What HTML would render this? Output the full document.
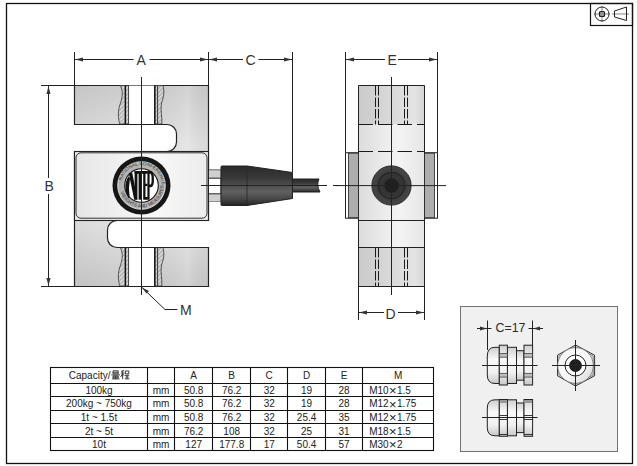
<!DOCTYPE html>
<html><head><meta charset="utf-8">
<style>
html,body{margin:0;padding:0;background:#fff;width:637px;height:466px;overflow:hidden}
svg{display:block}
text{font-family:"Liberation Sans",sans-serif;fill:#222}
</style></head><body>
<svg width="637" height="466" viewBox="0 0 637 466">
<defs>
<linearGradient id="gBlock" x1="0" x2="1" y1="0" y2="0">
<stop offset="0" stop-color="#c4c4c4"/><stop offset="0.75" stop-color="#dedede"/><stop offset="1" stop-color="#c6c6c6"/>
</linearGradient>
<linearGradient id="gPanel" x1="0" x2="1" y1="0" y2="0">
<stop offset="0" stop-color="#e6e6e6"/><stop offset="0.6" stop-color="#f8f8f8"/><stop offset="1" stop-color="#ececec"/>
</linearGradient>
<linearGradient id="gBoot" x1="0" x2="0" y1="0" y2="1">
<stop offset="0" stop-color="#2a2a2a"/><stop offset="0.3" stop-color="#383838"/><stop offset="0.65" stop-color="#606060"/><stop offset="0.85" stop-color="#444"/><stop offset="1" stop-color="#222"/>
</linearGradient>
<linearGradient id="gGland" x1="0" x2="0" y1="0" y2="1">
<stop offset="0" stop-color="#cfcfcf"/><stop offset="0.35" stop-color="#fafafa"/><stop offset="0.7" stop-color="#f0f0f0"/><stop offset="1" stop-color="#c8c8c8"/>
</linearGradient>
<linearGradient id="gSideBlock" x1="0" x2="1" y1="0" y2="0">
<stop offset="0" stop-color="#cacaca"/><stop offset="0.6" stop-color="#dcdcdc"/><stop offset="0.85" stop-color="#e4e4e4"/><stop offset="1" stop-color="#d4d4d4"/>
</linearGradient>
<linearGradient id="gSideMid" x1="0" x2="1" y1="0" y2="0">
<stop offset="0" stop-color="#dcdcdc"/><stop offset="0.6" stop-color="#f4f4f4"/><stop offset="1" stop-color="#e6e6e6"/>
</linearGradient>
<radialGradient id="gGrom" cx="0.5" cy="0.5" r="0.5">
<stop offset="0.6" stop-color="#3a3a3a"/><stop offset="1" stop-color="#474747"/>
</radialGradient>
<linearGradient id="gBeamV" gradientUnits="userSpaceOnUse" x1="0" y1="85" x2="0" y2="286">
<stop offset="0" stop-color="#cecece"/><stop offset="0.3" stop-color="#e4e4e4"/><stop offset="0.7" stop-color="#e4e4e4"/><stop offset="1" stop-color="#cccccc"/>
</linearGradient>
<linearGradient id="gBeamH" gradientUnits="userSpaceOnUse" x1="74" y1="0" x2="208" y2="0">
<stop offset="0" stop-color="#000" stop-opacity="0.045"/><stop offset="0.5" stop-color="#000" stop-opacity="0"/><stop offset="0.85" stop-color="#fff" stop-opacity="0.1"/><stop offset="1" stop-color="#000" stop-opacity="0.04"/>
</linearGradient>
<linearGradient id="gHex" x1="0" y1="0" x2="1" y2="1">
<stop offset="0" stop-color="#fafafa"/><stop offset="1" stop-color="#cfcfcf"/>
</linearGradient>
<linearGradient id="gHex2" x1="0" y1="0" x2="1" y2="1">
<stop offset="0" stop-color="#f2f2f2"/><stop offset="0.5" stop-color="#fcfcfc"/><stop offset="1" stop-color="#d6d6d6"/>
</linearGradient>
<pattern id="hatch" patternUnits="userSpaceOnUse" width="3" height="3" patternTransform="rotate(45)">
<rect width="3" height="3" fill="#d6d6d6"/><line x1="0" y1="0" x2="0" y2="3" stroke="#666" stroke-width="0.8"/>
</pattern>
</defs>

<!-- page border -->
<rect x="6.5" y="3.5" width="626" height="460" fill="none" stroke="#111" stroke-width="1.3"/>

<!-- projection symbol box -->
<rect x="590.5" y="3.5" width="42" height="22" fill="none" stroke="#111" stroke-width="1.2"/>
<g stroke="#999" stroke-width="1.2"><line x1="594" y1="14" x2="610" y2="14"/><line x1="602" y1="6" x2="602" y2="22"/><line x1="612" y1="14" x2="629" y2="14"/></g>
<circle cx="602" cy="14" r="7" fill="none" stroke="#222" stroke-width="1"/>
<rect x="599.5" y="11.5" width="5" height="5" rx="1" fill="#999" stroke="#222" stroke-width="1.2"/>
<path d="M614.5,11 L626.5,7 V20.5 L614.5,17 Z" fill="none" stroke="#222" stroke-width="1"/>

<!-- ============ FRONT VIEW ============ -->
<g id="front">
<path d="M74.5,85.5 H208.5 V220.5 H117 A9.5,9.5 0 0 0 107.5,230 V238 A9.5,9.5 0 0 0 117,247.5 H208.5 V286.5 H74.5 V151.5 H167 A9.5,9.5 0 0 0 176.5,142 V134 A9.5,9.5 0 0 0 167,124.5 H74.5 Z" fill="url(#gBeamV)"/>
<path d="M74.5,85.5 H208.5 V220.5 H117 A9.5,9.5 0 0 0 107.5,230 V238 A9.5,9.5 0 0 0 117,247.5 H208.5 V286.5 H74.5 V151.5 H167 A9.5,9.5 0 0 0 176.5,142 V134 A9.5,9.5 0 0 0 167,124.5 H74.5 Z" fill="url(#gBeamH)" stroke="#222" stroke-width="1.2"/>
<!-- panel -->
<rect x="74.5" y="151.5" width="134" height="69" fill="#e8e8e8" stroke="#222" stroke-width="1.1"/>
<rect x="76" y="152.8" width="131" height="65.4" rx="5" fill="url(#gPanel)" stroke="#333" stroke-width="1"/>
<!-- bores top -->
<g id="bore">
<rect x="128.5" y="85.6" width="26.3" height="38.4" fill="#fff"/>
<path d="M120.4,85.6 C123.5,92 122.5,98 119.5,106 C117.5,113 118.5,120 119.8,124 H125.4 V85.6 Z" fill="url(#hatch)" stroke="#333" stroke-width="0.8"/>
<rect x="125.4" y="85.6" width="3.2" height="38.4" fill="url(#hatch)" stroke="#333" stroke-width="0.9"/>
<line x1="125.4" y1="85.6" x2="125.4" y2="124" stroke="#111" stroke-width="1.4"/>
<rect x="154.8" y="85.6" width="2.8" height="38.4" fill="url(#hatch)" stroke="#333" stroke-width="0.9"/>
<line x1="154.8" y1="85.6" x2="154.8" y2="124" stroke="#111" stroke-width="1.4"/>
<line x1="157.6" y1="85.6" x2="157.6" y2="124" stroke="#222" stroke-width="1"/>
<path d="M157.6,85.6 H163 C164.5,92 164,96 161.5,103 C160,110 162.5,117 161.8,124 H157.6 Z" fill="url(#hatch)" stroke="#333" stroke-width="0.8"/>
</g>
<use href="#bore" transform="translate(0,162)"/>
<line x1="74.5" y1="124.5" x2="167" y2="124.5" stroke="#222" stroke-width="1.1"/>
<line x1="117" y1="247.5" x2="208.5" y2="247.5" stroke="#222" stroke-width="1.1"/>

<!-- NTEP logo -->
<circle cx="141.5" cy="185.5" r="29" fill="#161616"/>
<circle cx="141.5" cy="185.5" r="23.8" fill="#b4b4b4" stroke="#e8e8e8" stroke-width="0.9"/>
<path id="ringTop" d="M121,185.5 A20.5,20.5 0 0 1 162,185.5" fill="none"/>
<path id="ringBot" d="M119.5,185.5 A22,22 0 0 0 163.5,185.5" fill="none"/>
<text font-size="4.8" style="fill:#333"><textPath href="#ringTop" startOffset="3%">· NATIONAL CONFERENCE ·</textPath></text>
<text font-size="4.8" style="fill:#333"><textPath href="#ringBot" startOffset="10%">WEIGHTS AND MEASURES</textPath></text>
<circle cx="141.5" cy="185.5" r="16.8" fill="#fff" stroke="#111" stroke-width="1.1"/>
<g fill="#111">
<path d="M128.6,176.2 Q124.6,182 125.6,189.5 Q126.2,194.5 128.4,198.3 L129.6,196.8 Q128.2,188 130,178.6 Z"/>
<path d="M128.8,173.6 L132.2,172.4 L137.4,199.2 L134.2,199.7 Z"/>
<rect x="134.6" y="171" width="2.8" height="28.7"/>
<rect x="134.6" y="171" width="10.6" height="2.8"/>
<rect x="138.6" y="171" width="2.7" height="28.7"/>
<path d="M143.2,171 H147.8 V173.8 H145.5 V183.8 H147.5 V186.1 H145.5 V197 H147.8 V199.7 H143.2 Z"/>
<path d="M147.4,171 H150.8 Q154,171.3 154,179.2 Q154,187.3 150.8,187.3 H149.6 V199.7 H147.4 Z M149.6,173.8 V184.6 H150.4 Q151.6,184.4 151.6,179.2 Q151.6,174 150.4,173.8 Z" fill-rule="evenodd"/>
</g>
<!-- connector -->
<rect x="208.5" y="170" width="12.5" height="31" fill="#fff" stroke="#222" stroke-width="1"/>
<rect x="209" y="170.5" width="11.5" height="7.5" fill="#cfcfcf"/>
<rect x="209" y="194" width="11.5" height="7" fill="#cfcfcf"/>
<g stroke="#222" stroke-width="1"><line x1="208.5" y1="178.2" x2="221" y2="178.2"/><line x1="208.5" y1="193.8" x2="221" y2="193.8"/></g>
<path d="M221,167 Q221,166 222,166 H247 L292.5,172.5 V198.5 L247,205.5 H222 Q221,205.5 221,204.5 Z" fill="url(#gBoot)" stroke="#222" stroke-width="1"/>
<line x1="247" y1="166" x2="247" y2="205.5" stroke="#2a2a2a" stroke-width="0.9"/>
<path d="M292.5,179 H319 Q316,185 320,192 H292.5 Z" fill="url(#gBoot)" stroke="#222" stroke-width="1"/>
</g>

<!-- dimension lines front -->
<g stroke="#222" stroke-width="1" fill="none">
<!-- A -->
<line x1="74.5" y1="52" x2="74.5" y2="85"/>
<line x1="208.5" y1="52" x2="208.5" y2="85"/>
<line x1="292.5" y1="52" x2="292.5" y2="172"/>
<line x1="75" y1="59.5" x2="133.5" y2="59.5"/>
<line x1="149.5" y1="59.5" x2="208" y2="59.5"/>
<line x1="209" y1="59.5" x2="243" y2="59.5"/>
<line x1="258.5" y1="59.5" x2="292" y2="59.5"/>
<!-- B -->
<line x1="41" y1="85.5" x2="74" y2="85.5"/>
<line x1="41" y1="286.5" x2="74" y2="286.5"/>
<line x1="48.5" y1="86" x2="48.5" y2="178"/>
<line x1="48.5" y1="194" x2="48.5" y2="286"/>
<!-- center lines -->
<line x1="141.5" y1="77" x2="141.5" y2="295"/>
<line x1="201" y1="185.5" x2="208" y2="185.5"/>
<line x1="208" y1="185.5" x2="327" y2="185.5"/>
<line x1="333" y1="185.5" x2="339" y2="185.5"/>
<!-- M leader -->
<path d="M142,287.5 L165,309.5 H177.5"/>
</g>
<g fill="#333">
<path d="M75,59.5 L83,57.5 V61.5 Z"/>
<path d="M208,59.5 L200,57.5 V61.5 Z"/>
<path d="M209,59.5 L217,57.5 V61.5 Z"/>
<path d="M292,59.5 L284,57.5 V61.5 Z"/>
<path d="M48.5,86 L46.5,94 H50.5 Z"/>
<path d="M48.5,286 L46.5,278 H50.5 Z"/>
<path d="M142,287.5 L149,291 L146.5,293.5 Z"/>
</g>
<text x="136.5" y="65" font-size="14" style="fill:#333">A</text>
<text x="245.5" y="65" font-size="14" style="fill:#333">C</text>
<text x="44.5" y="191" font-size="14" style="fill:#333">B</text>
<text x="180" y="314.5" font-size="14" style="fill:#333">M</text>

<!-- ============ SIDE VIEW ============ -->
<g id="side">
<rect x="358.5" y="85.5" width="66" height="39" fill="url(#gSideBlock)"/>
<path d="M358.5,124.5 V85.5 H424.5 V124.5" fill="none" stroke="#222" stroke-width="1"/>
<rect x="358.5" y="124.5" width="66" height="28" fill="url(#gSideMid)"/>
<rect x="358.5" y="151.5" width="66" height="69" fill="url(#gSideMid)"/>
<rect x="358.5" y="220.5" width="66" height="27" fill="url(#gSideMid)" stroke="#222" stroke-width="1"/>
<rect x="358.5" y="247.5" width="66" height="39" fill="url(#gSideBlock)" stroke="#222" stroke-width="1"/>
<line x1="358.5" y1="124" x2="358.5" y2="221" stroke="#222" stroke-width="1"/>
<line x1="424.5" y1="124" x2="424.5" y2="221" stroke="#222" stroke-width="1"/>
<!-- side bars -->
<rect x="345.5" y="152.7" width="13" height="65.5" fill="#fff" stroke="#222" stroke-width="1"/>
<rect x="348.5" y="153.2" width="10" height="64.5" fill="#adadad" stroke="#222" stroke-width="0.8"/>
<rect x="424.5" y="152.7" width="13" height="65.5" fill="#fff" stroke="#222" stroke-width="1"/>
<rect x="424.5" y="153.2" width="10" height="64.5" fill="#adadad" stroke="#222" stroke-width="0.8"/>
<!-- hidden lines -->
<g stroke="#1a1a1a" stroke-width="1" stroke-dasharray="9.5,2">
<line x1="375.5" y1="86" x2="375.5" y2="124.5"/><line x1="378.5" y1="86" x2="378.5" y2="124.5"/>
<line x1="404.5" y1="86" x2="404.5" y2="124.5"/><line x1="407.5" y1="86" x2="407.5" y2="124.5"/>
<line x1="375.5" y1="248" x2="375.5" y2="286"/><line x1="378.5" y1="248" x2="378.5" y2="286"/>
<line x1="404.5" y1="248" x2="404.5" y2="286"/><line x1="407.5" y1="248" x2="407.5" y2="286"/>
</g>
<g stroke="#1a1a1a" stroke-width="1" stroke-dasharray="14.5,5">
<line x1="358.5" y1="124.5" x2="424.5" y2="124.5"/>
<line x1="358.5" y1="151.5" x2="424.5" y2="151.5"/>
</g>
<!-- grommet -->
<circle cx="391.5" cy="185.5" r="19.6" fill="url(#gGrom)" stroke="#262626" stroke-width="1"/>
<circle cx="391.5" cy="185.5" r="13.2" fill="#353535" stroke="#262626" stroke-width="1.2"/>
<circle cx="391.5" cy="185.5" r="7.5" fill="#202020" stroke="#303030" stroke-width="0.8"/>
</g>
<g stroke="#222" stroke-width="1" fill="none">
<line x1="345.5" y1="52" x2="345.5" y2="152.7"/>
<line x1="437.5" y1="52" x2="437.5" y2="152.7"/>
<line x1="346" y1="59.5" x2="385" y2="59.5"/>
<line x1="398" y1="59.5" x2="437" y2="59.5"/>
<line x1="358.5" y1="286" x2="358.5" y2="320"/>
<line x1="424.5" y1="286" x2="424.5" y2="320"/>
<line x1="359" y1="312.5" x2="384" y2="312.5"/>
<line x1="398" y1="312.5" x2="424" y2="312.5"/>
<line x1="391.5" y1="77" x2="391.5" y2="295"/>
<line x1="336" y1="185.6" x2="446" y2="185.6"/>
</g>
<g fill="#333">
<path d="M346,59.5 L354,57.5 V61.5 Z"/>
<path d="M437,59.5 L429,57.5 V61.5 Z"/>
<path d="M359,312.5 L367,310.5 V314.5 Z"/>
<path d="M424,312.5 L416,310.5 V314.5 Z"/>
</g>
<text x="387.5" y="65" font-size="14" style="fill:#333">E</text>
<text x="385.5" y="318.5" font-size="14" style="fill:#333">D</text>

<!-- ============ TABLE ============ -->
<g stroke="#111" stroke-width="1.1" fill="none">
<rect x="50.5" y="367.5" width="383.0" height="83.0"/>
<line x1="50.5" y1="383.5" x2="433.5" y2="383.5"/>
<line x1="50.5" y1="396.5" x2="433.5" y2="396.5"/>
<line x1="50.5" y1="410.5" x2="433.5" y2="410.5"/>
<line x1="50.5" y1="423.5" x2="433.5" y2="423.5"/>
<line x1="50.5" y1="437.5" x2="433.5" y2="437.5"/>
<line x1="147.5" y1="367.5" x2="147.5" y2="450.5"/>
<line x1="174.5" y1="367.5" x2="174.5" y2="450.5"/>
<line x1="212.5" y1="367.5" x2="212.5" y2="450.5"/>
<line x1="250.5" y1="367.5" x2="250.5" y2="450.5"/>
<line x1="287.5" y1="367.5" x2="287.5" y2="450.5"/>
<line x1="325.5" y1="367.5" x2="325.5" y2="450.5"/>
<line x1="362.5" y1="367.5" x2="362.5" y2="450.5"/>
</g>
<g font-size="10" text-anchor="middle">
<text x="89.6" y="378.6">Capacity/</text>
<text x="193.7" y="378.6">A</text>
<text x="231.7" y="378.6">B</text>
<text x="269.2" y="378.6">C</text>
<text x="306.6" y="378.6">D</text>
<text x="344.0" y="378.6">E</text>
<text x="398.1" y="378.6">M</text>
</g>
<g fill="none" stroke="#333" stroke-width="0.95">
<path d="M113,370.8 H118.2 V373.8 H113 Z M113,372.3 H118.2 M111.3,374.9 H120 M113,375.9 H118.2 V378 H113 Z M113,377 H118.2 M115.6,375.9 V379 M112,378.9 H119.6"/>
<path d="M124.2,370.5 L121,371.3 M120.8,373 H124.4 M122.6,371.2 V379.2 M122.6,373.6 L120.6,377 M122.8,374 L124.3,375.8 M125.4,371 H128.8 V373.9 H125.4 Z M125,375.3 H129.2 M125.5,377 H128.7 M124.8,378.8 H129.4 M127.1,375.3 V378.8"/>
</g>
<g font-size="10" text-anchor="middle">
<text x="99.0" y="394.0">100kg</text>
<text x="161.0" y="394.0">mm</text>
<text x="193.7" y="394.0">50.8</text>
<text x="231.7" y="394.0">76.2</text>
<text x="269.2" y="394.0">32</text>
<text x="306.6" y="394.0">19</text>
<text x="344.0" y="394.0">28</text>
<text x="99.0" y="407.4">200kg ~ 750kg</text>
<text x="161.0" y="407.4">mm</text>
<text x="193.7" y="407.4">50.8</text>
<text x="231.7" y="407.4">76.2</text>
<text x="269.2" y="407.4">32</text>
<text x="306.6" y="407.4">19</text>
<text x="344.0" y="407.4">28</text>
<text x="99.0" y="421.0">1t ~ 1.5t</text>
<text x="161.0" y="421.0">mm</text>
<text x="193.7" y="421.0">50.8</text>
<text x="231.7" y="421.0">76.2</text>
<text x="269.2" y="421.0">32</text>
<text x="306.6" y="421.0">25.4</text>
<text x="344.0" y="421.0">35</text>
<text x="99.0" y="434.6">2t ~ 5t</text>
<text x="161.0" y="434.6">mm</text>
<text x="193.7" y="434.6">76.2</text>
<text x="231.7" y="434.6">108</text>
<text x="269.2" y="434.6">32</text>
<text x="306.6" y="434.6">25</text>
<text x="344.0" y="434.6">31</text>
<text x="99.0" y="448.2">10t</text>
<text x="161.0" y="448.2">mm</text>
<text x="193.7" y="448.2">127</text>
<text x="231.7" y="448.2">177.8</text>
<text x="269.2" y="448.2">17</text>
<text x="306.6" y="448.2">50.4</text>
<text x="344.0" y="448.2">57</text>
</g>
<g font-size="10">
<text x="369.2" y="394.0">M10<tspan dx="0.3" dy="1.2" font-size="13">×</tspan><tspan dx="0.4" dy="-1.2">1.5</tspan></text>
<text x="369.2" y="407.4">M12<tspan dx="0.3" dy="1.2" font-size="13">×</tspan><tspan dx="0.4" dy="-1.2">1.75</tspan></text>
<text x="369.2" y="421.0">M12<tspan dx="0.3" dy="1.2" font-size="13">×</tspan><tspan dx="0.4" dy="-1.2">1.75</tspan></text>
<text x="369.2" y="434.6">M18<tspan dx="0.3" dy="1.2" font-size="13">×</tspan><tspan dx="0.4" dy="-1.2">1.5</tspan></text>
<text x="369.2" y="448.2">M30<tspan dx="0.3" dy="1.2" font-size="13">×</tspan><tspan dx="0.4" dy="-1.2">2</tspan></text>
</g>

<!-- ============ INSET ============ -->
<rect x="460.5" y="306.5" width="157" height="145" fill="#f0f0f0" stroke="#727272" stroke-width="1"/>
<!-- C=17 dim -->
<g stroke="#222" stroke-width="1" fill="none">
<line x1="487.5" y1="320.5" x2="487.5" y2="350"/>
<line x1="532.5" y1="320.5" x2="532.5" y2="345"/>
<line x1="477" y1="328.5" x2="491.5" y2="328.5"/>
<line x1="528.5" y1="328.5" x2="543" y2="328.5"/>
</g>
<g fill="#333"><path d="M487,328.5 L480,326.5 V330.5 Z"/><path d="M533,328.5 L540,326.5 V330.5 Z"/></g>
<text x="495.5" y="332.3" font-size="12.4" style="fill:#2a2a2a">C=17</text>
<!-- gland 1 -->
<g stroke="#222" stroke-width="1" fill="url(#gGland)">
<path d="M499.3,347.3 H495 Q487.3,347.3 487.3,356 V375 Q487.3,383.5 495,383.5 H499.3 Z"/>
<rect x="507.4" y="347.3" width="9.1" height="36.2"/>
<rect x="516.5" y="350.7" width="7.5" height="29.5"/>
<rect x="499.3" y="345.2" width="8.1" height="39.8"/>
<rect x="524" y="345.2" width="8.6" height="39.8"/>
</g>
<g fill="#bdbdbd" stroke="#333" stroke-width="0.7">
<rect x="499.3" y="353.4" width="8.1" height="3.8"/><rect x="524" y="353.4" width="8.6" height="3.8"/>
<rect x="499.3" y="373.3" width="8.1" height="3.8"/><rect x="524" y="373.3" width="8.6" height="3.8"/>
</g>
<line x1="482" y1="365.5" x2="537.5" y2="365.5" stroke="#222" stroke-width="1"/>
<!-- gland 2 -->
<g stroke="#222" stroke-width="1" fill="url(#gGland)">
<path d="M499.3,399.8 H495 Q487.3,399.8 487.3,408 V427.5 Q487.3,435.8 495,435.8 H499.3 Z"/>
<rect x="507.4" y="399.8" width="9.1" height="36"/>
<rect x="516.5" y="403" width="7.5" height="29.6"/>
<rect x="499.3" y="399.5" width="8.1" height="36.8"/>
<rect x="524" y="399.5" width="8.6" height="36.8"/>
</g>
<g fill="#999"><rect x="499.8" y="400" width="7.1" height="3"/><rect x="524.5" y="400" width="7.6" height="3"/></g>
<g stroke="#222" stroke-width="0.9">
<line x1="499.3" y1="415.5" x2="507.4" y2="415.5"/><line x1="524" y1="415.5" x2="532.6" y2="415.5"/>
<line x1="499.3" y1="419.5" x2="507.4" y2="419.5"/><line x1="524" y1="419.5" x2="532.6" y2="419.5"/>
<line x1="499.3" y1="434.5" x2="507.4" y2="434.5"/><line x1="524" y1="434.5" x2="532.6" y2="434.5"/>
</g>
<line x1="482" y1="417.5" x2="537.5" y2="417.5" stroke="#222" stroke-width="1"/>
<!-- end view -->
<path d="M575.5,345 L594.6,355.2 V375.8 L575.5,386 L557.5,375.8 V355.2 Z" fill="url(#gHex)" stroke="#333" stroke-width="1"/>
<path d="M575.5,346.6 L593.2,356 V375 L575.5,384.4 L558.9,375 V356 Z" fill="none" stroke="#666" stroke-width="0.7"/>
<circle cx="575.5" cy="365.5" r="17.8" fill="url(#gHex2)" stroke="#777" stroke-width="0.8"/>
<circle cx="575.5" cy="365.5" r="10.5" fill="#fff" stroke="#222" stroke-width="1"/>
<circle cx="575.5" cy="365.5" r="6.4" fill="#1e1e1e"/>
<g stroke="#222" stroke-width="1"><line x1="575.5" y1="340" x2="575.5" y2="391"/><line x1="552" y1="365.5" x2="600" y2="365.5"/></g>
</svg>
</body></html>
